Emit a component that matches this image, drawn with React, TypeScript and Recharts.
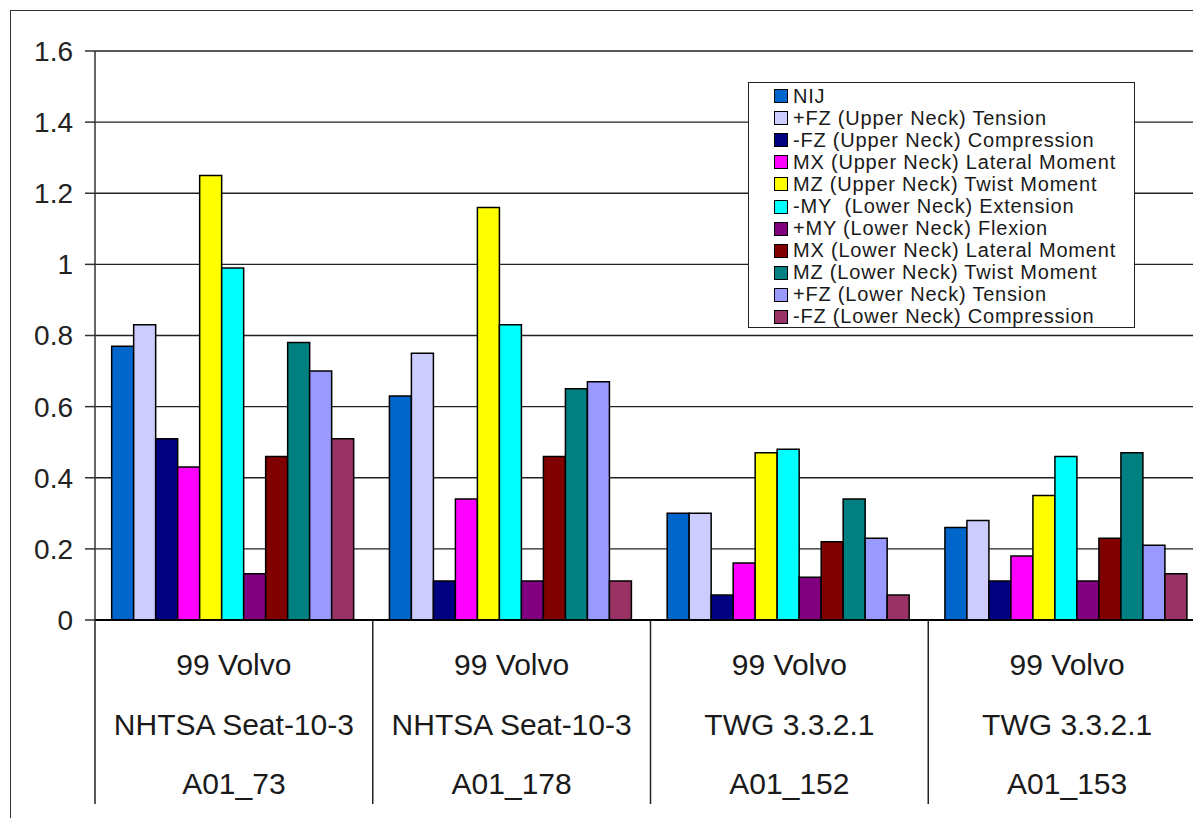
import React from "react";
import {Bar, BarChart, CartesianGrid, Legend, XAxis, YAxis} from "recharts";

const categories = ["A01_73", "A01_178", "A01_152", "A01_153"];
const makes = ["99 Volvo", "99 Volvo", "99 Volvo", "99 Volvo"];
const tests = ["NHTSA Seat-10-3", "NHTSA Seat-10-3", "TWG 3.3.2.1", "TWG 3.3.2.1"];

const seriesNames = [
    "NIJ",
    "+FZ (Upper Neck) Tension",
    "-FZ (Upper Neck) Compression",
    "MX (Upper Neck) Lateral Moment",
    "MZ (Upper Neck) Twist Moment",
    "-MY  (Lower Neck) Extension",
    "+MY (Lower Neck) Flexion",
    "MX (Lower Neck) Lateral Moment",
    "MZ (Lower Neck) Twist Moment",
    "+FZ (Lower Neck) Tension",
    "-FZ (Lower Neck) Compression",
];

const seriesColors = [
    "#0066CC", "#CCCCFF", "#000080", "#FF00FF", "#FFFF00", "#00FFFF",
    "#800080", "#800000", "#008080", "#9999FF", "#993366",
];

const nij = [0.77, 0.63, 0.30, 0.26];
const fzUpperTension = [0.83, 0.75, 0.30, 0.28];
const fzUpperCompression = [0.51, 0.11, 0.07, 0.11];
const mxUpper = [0.43, 0.34, 0.16, 0.18];
const mzUpper = [1.25, 1.16, 0.47, 0.35];
const myExtension = [0.99, 0.83, 0.48, 0.46];
const myFlexion = [0.13, 0.11, 0.12, 0.11];
const mxLower = [0.46, 0.46, 0.22, 0.23];
const mzLower = [0.78, 0.65, 0.34, 0.47];
const fzLowerTension = [0.70, 0.67, 0.23, 0.21];
const fzLowerCompression = [0.51, 0.11, 0.07, 0.13];

const seriesValues = [
    nij, fzUpperTension, fzUpperCompression, mxUpper, mzUpper, myExtension,
    myFlexion, mxLower, mzLower, fzLowerTension, fzLowerCompression,
];

const yTicks = [0, 0.2, 0.4, 0.6, 0.8, 1, 1.2, 1.4, 1.6];

const data = categories.map((c, i) => {
    const row: Record<string, string | number> = {name: c};
    seriesValues.forEach((vals, s) => {
        row["s" + s] = vals[i];
    });
    return row;
});

const FONT = "'Liberation Sans', Arial, sans-serif";
const CHART_W = 1260;
const MARGIN = {top: 43, right: 62, bottom: 8, left: 7};
const Y_W = 80;
const PLOT_W = CHART_W - MARGIN.left - MARGIN.right - Y_W;
const BAND = PLOT_W / categories.length;

const CategoryTick = (props: any) => {
    const {x, y, payload} = props;
    const i = categories.indexOf(payload.value);
    const left = x - BAND / 2;
    const textProps = {x, textAnchor: "middle" as const, fontSize: 30, fill: "#1a1a1a", fontFamily: FONT};
    return (
        <g>
            <line x1={left} y1={y} x2={left} y2={y + 184} stroke="#222" strokeWidth={1.5}/>
            <text {...textProps} y={y + 55}>{makes[i]}</text>
            <text {...textProps} y={y + 115}>{tests[i]}</text>
            <text {...textProps} y={y + 174}>{categories[i]}</text>
        </g>
    );
};

const LegendBox = () => (
    <div style={{
        width: "100%", height: "100%", boxSizing: "border-box", background: "#fff",
        border: "1.5px solid #222", paddingTop: 2, paddingLeft: 25, fontFamily: FONT,
    }}>
        {seriesNames.map((n, i) => (
            <div key={n} style={{display: "flex", alignItems: "center", height: 22.1}}>
                <span style={{
                    width: 12, height: 12, background: seriesColors[i], border: "1px solid #000",
                    marginRight: 5, flex: "none",
                }}/>
                <span style={{fontSize: 20, letterSpacing: 0.8, color: "#1a1a1a", whiteSpace: "pre"}}>{n}</span>
            </div>
        ))}
    </div>
);

const App: React.FC = () => {
    return (
        <div style={{position: "relative", width: 1193, height: 810, overflow: "hidden"}}>
            <div style={{
                position: "absolute", left: 2, top: 2, width: 1400, height: 1000,
                border: "1.5px solid #333",
            }}/>
            <BarChart
                width={CHART_W}
                height={810}
                data={data}
                margin={MARGIN}
                barCategoryGap="6%"
                barGap={0}
            >
                <CartesianGrid vertical={false} stroke="#222" strokeWidth={1.3} horizontalValues={yTicks}/>
                <XAxis
                    dataKey="name"
                    height={190}
                    interval={0}
                    tickLine={false}
                    tickSize={0}
                    tickMargin={0}
                    axisLine={{stroke: "#000", strokeWidth: 2}}
                    tick={<CategoryTick/>}
                />
                <YAxis
                    width={Y_W}
                    domain={[0, 1.6]}
                    ticks={yTicks}
                    interval={0}
                    tickSize={10}
                    tickMargin={12}
                    tickFormatter={(v: number) => String(v)}
                    axisLine={{stroke: "#333", strokeWidth: 1.5}}
                    tickLine={{stroke: "#333", strokeWidth: 1.5}}
                    tick={{fontSize: 28, fill: "#222", fontFamily: FONT}}
                />
                <Legend
                    layout="vertical"
                    align="center"
                    verticalAlign="middle"
                    wrapperStyle={{left: 740, top: 74, width: 387, height: 246}}
                    content={() => <LegendBox/>}
                />
                {seriesNames.map((n, i) => (
                    <Bar
                        key={n}
                        dataKey={"s" + i}
                        name={n}
                        fill={seriesColors[i]}
                        stroke="#000"
                        strokeWidth={1.5}
                        isAnimationActive={false}
                    />
                ))}
            </BarChart>
        </div>
    );
};

export default App;
